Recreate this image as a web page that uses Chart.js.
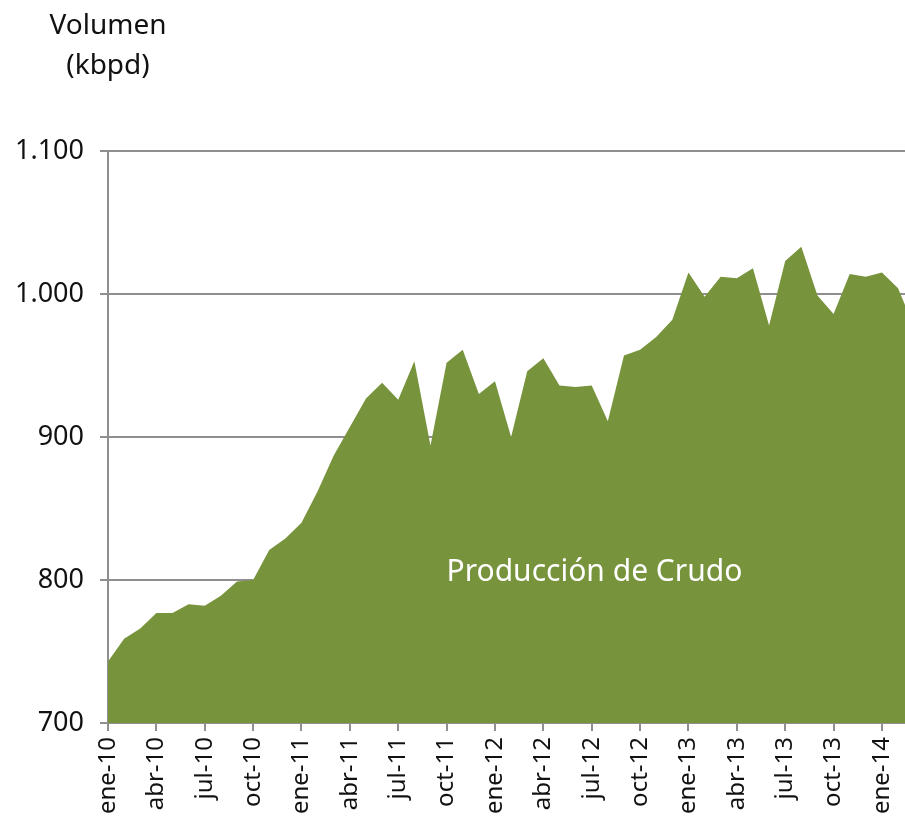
<!DOCTYPE html>
<html>
<head>
<meta charset="utf-8">
<script src="https://cdn.jsdelivr.net/npm/chart.js@4"></script>
<style>
  html, body { margin: 0; padding: 0; background: #fff; }
  #wrap { width: 905px; height: 825px; }
</style>
</head>
<body>
<div id="wrap"><canvas id="crudo-chart" width="905" height="825"></canvas></div>
<script>
// meses (ene-10 .. mar-14)
const months = ['ene-10','feb-10','mar-10','abr-10','may-10','jun-10','jul-10','ago-10','sep-10','oct-10','nov-10','dic-10',
                'ene-11','feb-11','mar-11','abr-11','may-11','jun-11','jul-11','ago-11','sep-11','oct-11','nov-11','dic-11',
                'ene-12','feb-12','mar-12','abr-12','may-12','jun-12','jul-12','ago-12','sep-12','oct-12','nov-12','dic-12',
                'ene-13','feb-13','mar-13','abr-13','may-13','jun-13','jul-13','ago-13','sep-13','oct-13','nov-13','dic-13',
                'ene-14','feb-14','mar-14'];

// produccion de crudo, kbpd
const production = [743, 759, 766, 777, 777, 783, 782, 789, 799, 800, 821, 829,
                    840, 862, 887, 907, 927, 938, 926, 953, 894, 952, 961, 930,
                    939, 900, 946, 955, 936, 935, 936, 911, 957, 961, 970, 982,
                    1015, 998, 1012, 1011, 1018, 978, 1023, 1033, 999, 986, 1014, 1012,
                    1015, 1004, 977];

const shownTicks = [0, 3, 6, 9, 12, 15, 18, 21, 24, 27, 30, 33, 36, 39, 42, 45, 48]; // every 3 months
const xMax = 49.43; // chart is cut off shortly after feb-14
const yTicks = [700, 800, 900, 1000, 1100];

const seriesName = 'Producción de Crudo';
const labelAt = { x: 30.17, y: 805 };
const titleLines = ['Volumen', '(kbpd)'];

const FONT = '"Noto Sans", sans-serif';
const GRID = '#8f8f8f';

function fmt(v) { // 1100 -> 1.100
    return v >= 1000 ? Math.floor(v / 1000) + '.' + String(v % 1000).padStart(3, '0') : String(v);
}

const textPlugin = {
    id: 'textPlugin',
    afterDatasetsDraw(chart) {
        const ctx = chart.ctx;
        const xs = chart.scales.x, ys = chart.scales.y;
        ctx.save();
        // label inside the area
        ctx.fillStyle = '#ffffff';
        ctx.font = '30px ' + FONT;
        ctx.textAlign = 'center';
        ctx.textBaseline = 'middle';
        ctx.fillText(seriesName, xs.getPixelForValue(labelAt.x), ys.getPixelForValue(labelAt.y));
        // axis title above the y axis
        ctx.fillStyle = '#111';
        ctx.font = '28px ' + FONT;
        titleLines.forEach((t, i) => ctx.fillText(t, chart.chartArea.left, 26 + i * 40));
        ctx.restore();
    }
};

new Chart(document.querySelector('#crudo-chart').getContext('2d'), {
    type: 'line',
    data: {
        datasets: [{
            label: seriesName,
            data: production.map((v, i) => ({ x: i, y: v })),
            backgroundColor: '#77933c',
            borderColor: '#77933c',
            borderWidth: 0,
            pointRadius: 0,
            tension: 0,
            fill: 'start'
        }]
    },
    options: {
        responsive: false,
        animation: false,
        layout: { padding: { top: 151, right: 0, left: 0, bottom: 0 } },
        plugins: { legend: { display: false }, tooltip: { enabled: false } },
        scales: {
            x: {
                type: 'linear',
                min: 0,
                max: xMax,
                afterBuildTicks: s => { s.ticks = shownTicks.map(v => ({ value: v })); },
                afterFit: s => { s.height = 102; s.paddingLeft = 0; s.paddingRight = 0; },
                grid: { drawOnChartArea: false, drawTicks: true, tickLength: 8, color: GRID, lineWidth: 2 },
                border: { color: GRID, width: 2 },
                ticks: {
                    autoSkip: false,
                    minRotation: 90,
                    maxRotation: 90,
                    padding: 6,
                    color: '#111',
                    font: { family: FONT, size: 24 },
                    callback: v => months[v]
                }
            },
            y: {
                min: 700,
                max: 1100,
                afterBuildTicks: s => { s.ticks = yTicks.map(v => ({ value: v })); },
                afterFit: s => { s.width = 108; s.paddingTop = 0; s.paddingBottom = 0; },
                grid: { color: GRID, lineWidth: 2, tickLength: 8 },
                border: { color: GRID, width: 2 },
                ticks: {
                    padding: 16,
                    color: '#111',
                    font: { family: FONT, size: 27 },
                    callback: v => fmt(v)
                }
            }
        }
    },
    plugins: [textPlugin]
});
</script>
</body>
</html>
